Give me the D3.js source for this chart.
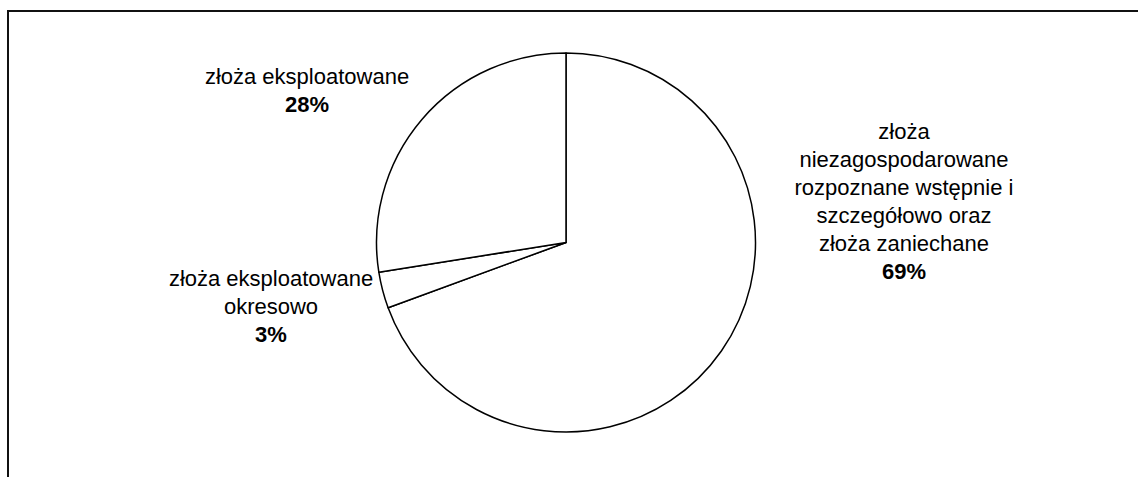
<!DOCTYPE html>
<html lang="pl">
<head>
<meta charset="UTF-8">
<title>Złoża</title>
<script src="https://cdn.jsdelivr.net/npm/d3@7/dist/d3.min.js"></script>
<style>
body { margin: 0; background: #fff; }
svg { display: block; font-family: "Liberation Sans", Arial, sans-serif; }
</style>
</head>
<body>
<svg width="1138" height="477"></svg>
<script>
// kolejność zgodnie z ruchem wskazówek zegara, od godziny 12
var categories = [
    ['złoża', 'niezagospodarowane', 'rozpoznane wstępnie i', 'szczegółowo oraz', 'złoża zaniechane'],
    ['złoża eksploatowane', 'okresowo'],
    ['złoża eksploatowane']
];
var values = [69.4, 3.1, 27.5];
var percentLabels = ['69%', '3%', '28%'];

// położenie etykiet (środek, linia bazowa pierwszego wiersza)
var labelPos = [[904, 139], [271, 286], [307, 84]];

var svg = d3.select('svg');
var cx = 566, cy = 242.5, r = 189.5;
var lineH = 28;

// ramka obszaru wykresu
svg.append('rect')
    .attr('x', 8).attr('y', 11)
    .attr('width', 1300).attr('height', 700)
    .attr('fill', 'none')
    .attr('stroke', '#111')
    .attr('stroke-width', 2);

var pie = d3.pie().sort(null).value(function(d) { return d; });
var arc = d3.arc().innerRadius(0).outerRadius(r);

svg.append('g')
    .attr('transform', 'translate(' + cx + ',' + cy + ')')
    .selectAll('path')
    .data(pie(values))
    .enter()
    .append('path')
    .attr('d', arc)
    .attr('fill', '#fff')
    .attr('stroke', '#000')
    .attr('stroke-width', 1.5)
    .attr('stroke-linejoin', 'round');

var labels = svg.append('g')
    .selectAll('text')
    .data(categories)
    .enter()
    .append('text')
    .attr('text-anchor', 'middle')
    .attr('font-size', 22)
    .attr('fill', '#000');

labels.each(function(lines, i) {
    var t = d3.select(this);
    lines.forEach(function(l, j) {
        t.append('tspan')
            .attr('x', labelPos[i][0])
            .attr('y', labelPos[i][1] + j * lineH)
            .text(l);
    });
    t.append('tspan')
        .attr('x', labelPos[i][0])
        .attr('y', labelPos[i][1] + lines.length * lineH)
        .attr('font-weight', 'bold')
        .text(percentLabels[i]);
});
</script>
</body>
</html>
